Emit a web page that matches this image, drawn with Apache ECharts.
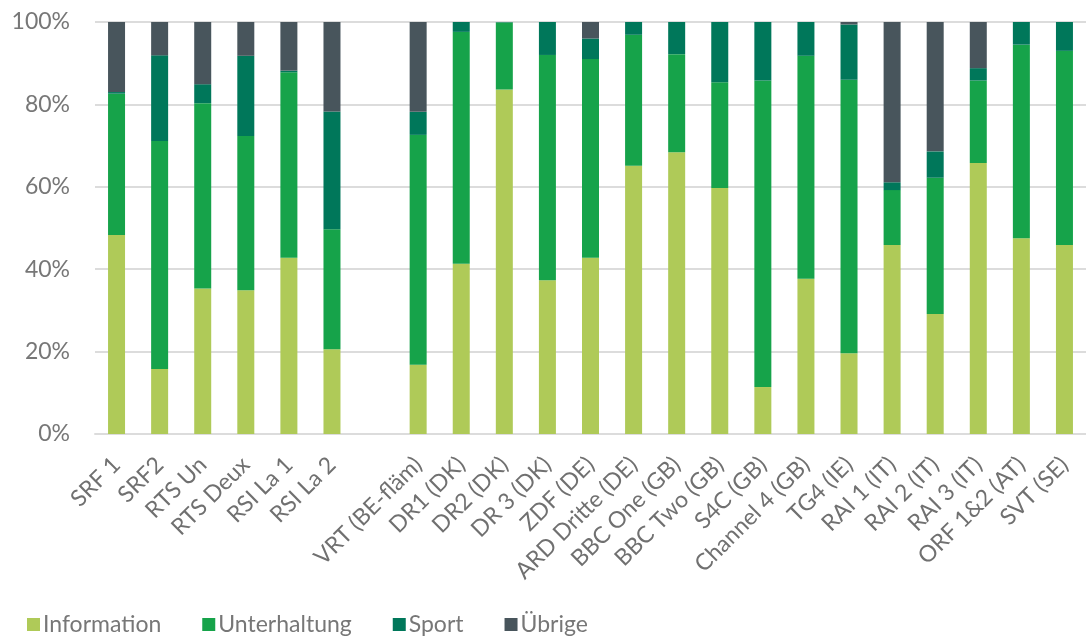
<!DOCTYPE html>
<html>
<head>
<meta charset="utf-8">
<script src="https://cdn.jsdelivr.net/npm/echarts@6/dist/echarts.min.js"></script>
<style>
  html, body { margin: 0; padding: 0; background: #fff; }
  #chart { width: 1086px; height: 637px; }
</style>
</head>
<body>
<div id="chart"></div>
<script>
// Sender (leere Kategorie = Lücke zwischen SRG und Ausland)
const senders = ['SRF 1', 'SRF2', 'RTS Un', 'RTS Deux', 'RSI La 1', 'RSI La 2', '',
  'VRT (BE-fläm)', 'DR1 (DK)', 'DR2 (DK)', 'DR 3 (DK)', 'ZDF (DE)', 'ARD Dritte (DE)',
  'BBC One (GB)', 'BBC Two (GB)', 'S4C (GB)', 'Channel 4 (GB)', 'TG4 (IE)',
  'RAI 1 (IT)', 'RAI 2 (IT)', 'RAI 3 (IT)', 'ORF 1&2 (AT)', 'SVT (SE)'];

// Anteile in %
const information  = [48.3, 15.8, 35.3, 34.9, 42.8, 20.6, null, 16.8, 41.3, 83.6, 37.3, 42.8, 65.1, 68.4, 59.7, 11.4, 37.7, 19.6, 45.9, 29.1, 65.8, 47.5, 45.9];
const unterhaltung = [34.3, 55.3, 45.0, 37.4, 45.0, 29.1, null, 55.8, 56.3, 16.3, 54.7, 48.2, 31.8, 23.8, 25.7, 74.4, 54.1, 66.4, 13.3, 33.1, 20.0, 47.0, 47.1];
const sport        = [0.4, 20.8, 4.6, 19.5, 0.4, 28.6, null, 5.6, 2.4, 0.1, 8.0, 5.0, 3.1, 7.8, 14.6, 14.2, 8.2, 13.4, 1.9, 6.4, 3.0, 5.5, 7.0];
const uebrige      = [17.0, 8.1, 15.1, 8.2, 11.8, 21.7, null, 21.8, 0, 0, 0, 4.0, 0, 0, 0, 0, 0, 0.6, 38.9, 31.4, 11.2, 0, 0];

const seriesNames = ['Information', 'Unterhaltung', 'Sport', 'Übrige'];
const colors = ['#afca58', '#16a34a', '#00775a', '#48555c'];
const yTicks = [0, 20, 40, 60, 80, 100];

const chartDom = document.getElementById('chart');
let chart = echarts.init(chartDom);

const font = 'Lato, "Open Sans", sans-serif';

function makeSeries(name, data, color) {
    return {
        name: name,
        type: 'bar',
        stack: 'total',
        barWidth: 17,
        itemStyle: { color: color },
        data: data
    };
}

let option = {
    animation: false,
    color: colors,
    textStyle: { fontFamily: font },
    grid: { left: 95, right: -10, top: 22, bottom: 203, containLabel: false },
    legend: {
        data: seriesNames,
        left: 22,
        bottom: -4,
        itemWidth: 13,
        itemHeight: 13,
        itemGap: 41,
        icon: 'rect',
        textStyle: { color: '#777', fontSize: 23, fontFamily: font, padding: [0, 0, 0, -2] }
    },
    xAxis: {
        type: 'category',
        data: senders,
        axisTick: { show: false },
        axisLine: { lineStyle: { color: '#dcdcdc', width: 2 } },
        axisLabel: {
            rotate: 45,
            interval: 0,
            margin: 27,
            fontSize: 23,
            color: '#707070',
            fontFamily: font
        }
    },
    yAxis: {
        type: 'value',
        min: yTicks[0],
        max: yTicks[yTicks.length - 1],
        interval: 20,
        axisLine: { show: false },
        axisTick: { show: false },
        axisLabel: {
            margin: 25,
            fontSize: 23,
            color: '#777',
            fontFamily: font,
            formatter: '{value}%'
        },
        splitLine: { lineStyle: { color: '#dcdcdc', width: 2 } }
    },
    series: [
        makeSeries(seriesNames[0], information, colors[0]),
        makeSeries(seriesNames[1], unterhaltung, colors[1]),
        makeSeries(seriesNames[2], sport, colors[2]),
        makeSeries(seriesNames[3], uebrige, colors[3])
    ]
};

chart.setOption(option);
</script>
</body>
</html>
